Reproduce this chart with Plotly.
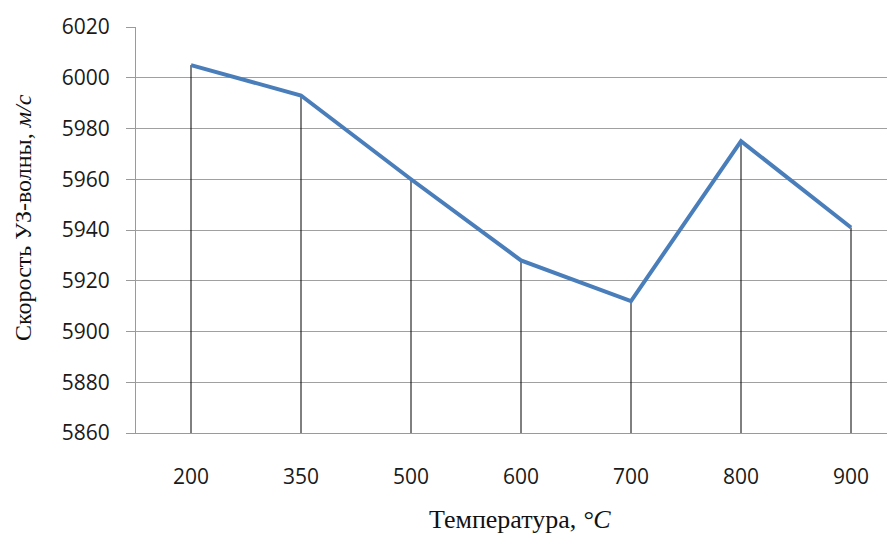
import plotly.graph_objects as go

temps = ["200", "350", "500", "600", "700", "800", "900"]
speeds = [6005, 5993, 5960, 5928, 5912, 5975, 5941]
y_ticks = [5860, 5880, 5900, 5920, 5940, 5960, 5980, 6000, 6020]
y_base = 5860

drop_x, drop_y = [], []
for t, v in zip(temps, speeds):
    drop_x += [t, t, None]
    drop_y += [y_base, v, None]

fig = go.Figure()
fig.add_trace(go.Scatter(x=drop_x, y=drop_y, mode="lines",
                         line=dict(color="black", width=1), hoverinfo="skip",
                         showlegend=False))
fig.add_trace(go.Scatter(x=temps, y=speeds, mode="lines",
                         line=dict(color="#4A7EBB", width=4), showlegend=False))

serif = dict(family="Liberation Serif, Times New Roman, serif", size=24, color="#111")

fig.update_layout(
    width=887, height=532,
    margin=dict(l=128, r=0, t=19, b=107),
    plot_bgcolor="white", paper_bgcolor="white",
    font=dict(family="Open Sans, Liberation Sans, sans-serif", size=21, color="#1a1a1a"),
    annotations=[
        dict(text="Температура, <i>°C</i>", xref="paper", yref="paper",
             x=0.506, y=-0.214, xanchor="center", yanchor="middle",
             showarrow=False, font=dict(serif, size=26)),
        dict(text="Скорость УЗ-волны, <i>м/с</i>", xref="paper", yref="paper",
             x=-0.149, y=0.532, xanchor="center", yanchor="middle", textangle=-90,
             showarrow=False, font=serif),
    ],
)
fig.update_xaxes(
    type="category", range=[-0.5, 6.4], automargin=False,
    showgrid=False, showline=True, linecolor="#9a9a9a", linewidth=1,
    ticks="", ticklabelstandoff=25,
)
fig.update_yaxes(
    range=[5860, 6020], tickvals=y_ticks, automargin=False,
    showgrid=True, gridcolor="#a0a0a0", gridwidth=1,
    showline=True, linecolor="#9a9a9a", linewidth=1,
    ticks="outside", ticklen=9, tickcolor="#9a9a9a", ticklabelstandoff=12,
    zeroline=False,
)
fig.write_html("out.html")
